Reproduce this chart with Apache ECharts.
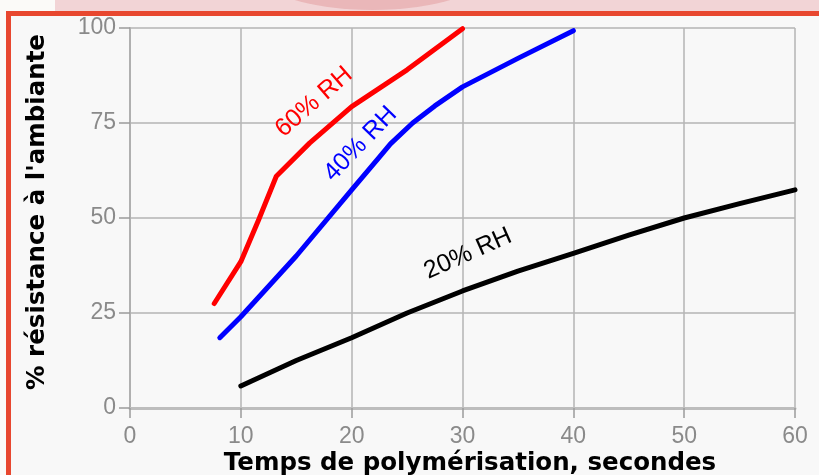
<!DOCTYPE html>
<html>
<head>
<meta charset="utf-8">
<script src="https://cdn.jsdelivr.net/npm/echarts@6/dist/echarts.min.js"></script>
<style>
html,body{margin:0;padding:0;width:819px;height:475px;overflow:hidden;background:#f2d4d6;}
#whiteL{position:absolute;left:0;top:0;width:55px;height:475px;background:#fbfaf8;}
#blob{position:absolute;left:255px;top:-70px;width:235px;height:80px;border-radius:50%;background:rgba(205,80,80,0.22);}
#frame{position:absolute;left:6px;top:11px;width:820px;height:470px;border-left:5px solid #e8472f;border-top:5px solid #e8472f;background:#f8f8f8;}
#chart{position:absolute;left:0;top:0;width:819px;height:475px;}
</style>
</head>
<body>
<div id="whiteL"></div>
<div id="blob"></div>
<div id="frame"></div>
<div id="chart"></div>
<script>
const xTicks = [0, 10, 20, 30, 40, 50, 60];
const yTicks = [0, 25, 50, 75, 100];
const rh60 = [[7.6, 27.5], [10, 38.5], [11.6, 49.5], [13.2, 61], [16.2, 69.7], [20, 79.3], [25, 89], [30, 99.8]];
const rh40 = [[8.1, 18.5], [10, 24], [15, 40], [20, 57.4], [22.5, 66], [23.5, 69.5], [25.5, 75], [27.5, 79.5], [30, 84.5], [35, 92], [40, 99.3]];
const rh20 = [[10, 5.8], [15, 12.5], [20, 18.5], [25, 25], [30, 30.8], [35, 36], [40, 40.7], [45, 45.5], [50, 50], [55, 53.8], [60, 57.4]];
const seriesNames = ['60% RH', '40% RH', '20% RH'];
const labelPos = [[16.6, 80.5], [20.8, 69.5], [30.5, 40.6]];
const labelRot = [41, 46, 24];
const colors = ['#ff0000', '#0000ff', '#000000'];
const datas = [rh60, rh40, rh20];

const chart = echarts.init(document.getElementById('chart'), null, {renderer: 'canvas'});
const FONT = '"Liberation Sans", Arial, sans-serif';
const NAMEFONT = '"DejaVu Sans", sans-serif';
chart.setOption({
  backgroundColor: 'transparent',
  animation: false,
  grid: {left: 130, right: 24, top: 28, bottom: 67, containLabel: false, outerBoundsMode: 'none'},
  xAxis: {
    type: 'value', min: xTicks[0], max: xTicks[xTicks.length - 1], interval: 10,
    name: 'Temps de polymérisation, secondes', nameLocation: 'middle', nameGap: 43, nameMoveOverlap: false,
    nameTextStyle: {fontFamily: NAMEFONT, fontWeight: 'bold', fontSize: 24.5, color: '#000', padding: [0, 0, 0, 15]},
    axisLine: {show: true, lineStyle: {color: '#bdbdbd', width: 3}},
    axisTick: {show: true, length: 10, lineStyle: {color: '#9a9a9a', width: 1.5}},
    axisLabel: {fontFamily: FONT, fontSize: 23, color: '#8a8a8a', margin: 17},
    splitLine: {show: true, lineStyle: {color: '#b5b5b5', width: 1.5}}
  },
  yAxis: {
    type: 'value', min: yTicks[0], max: yTicks[yTicks.length - 1], interval: 25,
    name: "% résistance à l'ambiante", nameLocation: 'middle', nameGap: 80, nameMoveOverlap: false,
    nameTextStyle: {fontFamily: NAMEFONT, fontWeight: 'bold', fontSize: 24.5, color: '#000', padding: [0, 0, 0, 12]},
    axisLine: {show: true, lineStyle: {color: '#b0b0b0', width: 2}},
    axisTick: {show: true, length: 11, lineStyle: {color: '#9a9a9a', width: 1.5}},
    axisLabel: {fontFamily: FONT, fontSize: 23, color: '#8a8a8a', margin: 14},
    splitLine: {show: true, lineStyle: {color: '#b5b5b5', width: 1.5}}
  },
  series: datas.map((d, i) => ({
    type: 'line', name: seriesNames[i], data: d, showSymbol: false, smooth: false,
    lineStyle: {color: colors[i], width: 5, cap: 'round', join: 'round'},
    z: 3,
    markPoint: {
      symbol: 'circle', symbolSize: 0, silent: true,
      data: [{coord: labelPos[i], value: seriesNames[i]}],
      label: {show: true, position: 'inside', formatter: seriesNames[i], rotate: labelRot[i],
        color: colors[i], fontFamily: FONT, fontSize: 25}
    }
  }))
});
</script>
</body>
</html>
